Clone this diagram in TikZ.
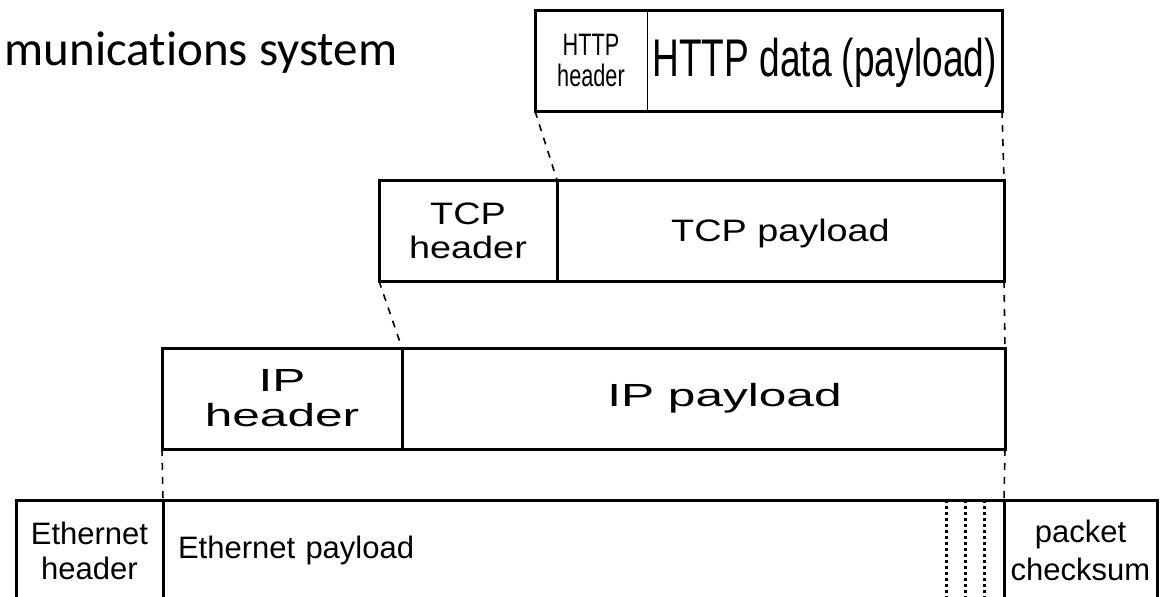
\documentclass[tikz,border=0pt]{standalone}
\usepackage{fontspec}
\setmainfont{Liberation Sans}
\newfontfamily\narrowfont[FakeStretch=0.7]{Liberation Sans}
\newfontfamily\tcpfont[FakeStretch=1.22]{Liberation Sans}
\newfontfamily\ipfont[FakeStretch=1.55]{Liberation Sans}
\newfontfamily\titlefont[Ligatures=NoCommon]{Carlito}
\usetikzlibrary{positioning}
\tikzset{
  field/.style={draw,rectangle,line width=3pt,inner sep=0pt,outer sep=0pt,minimum height=101pt,align=center},
  link/.style={line width=1.6pt,dash pattern=on 7pt off 7pt},
  gap/.style={line width=3pt,dash pattern=on 3pt off 3pt}
}

\begin{document}
\begin{tikzpicture}[line join=miter,x=1pt,y=-1pt]
\clip (0,0) rectangle (1162,597);
\node[anchor=base west,font=\titlefont\fontsize{49}{49}\selectfont] (title) at (1,65) {munications system};
% HTTP
\node[field,line width=1pt,minimum width=112pt,anchor=north west,font=\narrowfont\fontsize{31}{31}\selectfont] (httph) at (535,10) {HTTP\\header};
\node[field,line width=1pt,minimum width=355pt,right=0pt of httph,yshift=-2pt,font=\narrowfont\fontsize{53}{53}\selectfont,draw=none] (httpd) {HTTP data (payload)};
\draw[line width=3pt] (httph.north west) rectangle (httph.south west -| httpd.east);
% TCP
\node[field,minimum width=178pt,anchor=north west,font=\tcpfont\fontsize{31}{34}\selectfont] (tcph) at (379,180) {TCP\\header};
\node[field,minimum width=447pt,right=0pt of tcph,text depth=0pt,font=\tcpfont\fontsize{31}{34}\selectfont] (tcpd) {TCP payload};
% IP
\node[field,minimum width=240pt,anchor=north west,font=\ipfont\fontsize{32}{35}\selectfont] (iph) at (162,348) {IP\\header};
\node[field,minimum width=603pt,right=0pt of iph,font=\ipfont\fontsize{32}{35}\selectfont] (ipd) {\hspace*{42pt}IP payload};
% Ethernet
\node[field,minimum width=147pt,anchor=north west,font=\fontsize{31}{35}\selectfont] (ethh) at (16,500) {Ethernet\\header};
\node[field,text width=811pt,inner xsep=15pt,align=left,right=0pt of ethh,font=\fontsize{31}{35}\selectfont] (ethd) {Ethernet payload};
\node[field,minimum width=153pt,right=0pt of ethd,font=\fontsize{31}{38}\selectfont] (ethc) {packet\\checksum};
\foreach \dx in {58,39,20}
  \draw[gap] ([xshift=-\dx pt]ethd.north east) -- ++(0,110);
% links
\draw[link] (httph.south west) -- (tcph.north east);
\draw[link] (httph.south west -| httpd.east) -- (tcpd.north east);
\draw[link] (tcph.south west) -- (iph.north east);
\draw[link] (tcpd.south east) -- (ipd.north east);
\draw[link] (iph.south west) -- (ethh.north east);
\draw[link] (ipd.south east) -- (ethd.north east);
\end{tikzpicture}
\end{document}
